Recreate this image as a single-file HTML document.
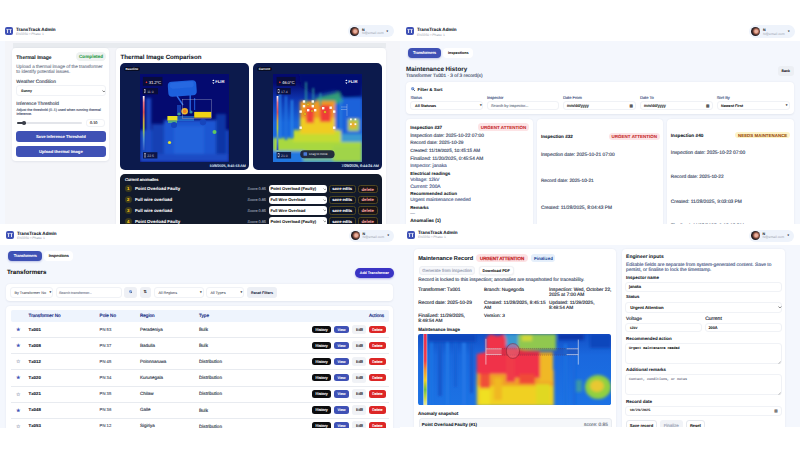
<!DOCTYPE html>
<html><head><meta charset="utf-8">
<style>
*{box-sizing:border-box;margin:0;padding:0}
html,body{width:800px;height:450px;overflow:hidden;background:#fff}
body{position:relative;font-family:"Liberation Sans",sans-serif;color:#111827;text-rendering:geometricPrecision}
.q{position:absolute;left:0;top:0;width:800px;height:450px}
.a{position:absolute}
.t{position:absolute;white-space:nowrap;line-height:1;-webkit-text-stroke:0.15px currentColor}
.b{font-weight:bold}
.t.b{-webkit-text-stroke:0.06px currentColor}
.card{position:absolute;background:#fff;border-radius:4px;box-shadow:0 0.5px 2px rgba(30,40,80,.08)}
.logo{position:absolute;width:8px;height:8px;border-radius:2px;background:#3f51b5;color:#fff;font-weight:bold;font-size:4.8px;line-height:9.6px;text-align:center;letter-spacing:-0.1px;-webkit-text-stroke:0.1px #fff}
.pill{position:absolute;border-radius:7px;background:#eef3fb}
.av{position:absolute;width:9px;height:9px;border-radius:50%;background:radial-gradient(circle at 58% 48%,#e8b0a0 0 18%,#c88068 30%,#6a4038 45%,#1e1a20 62%)}
.btn{position:absolute;border-radius:3px;background:#3f51b5;color:#fff;font-weight:bold;text-align:center;white-space:nowrap}
.inp{position:absolute;background:#fff;border:0.5px solid #f0f2f6;border-radius:3px}
.g{color:#9ba2b0;-webkit-text-stroke:0 !important}
.tag{height:4.6px;border-radius:2.3px;background:#070c22;color:#fff;font-size:3.1px;line-height:5.2px;text-align:center;font-weight:bold}
</style></head><body>
<!-- ============ TOP-LEFT ============ -->
<div class="q" style="clip-path:inset(0 400px 226px 0)">
<div class="a" style="left:0;top:41px;width:400px;height:183px;background:#f4f5f9"></div>
<div class="a" style="left:0;top:41px;width:5.2px;height:183px;background:#f5f8fe"></div>
<div class="a" style="left:13px;top:42.7px;width:372.5px;height:5.3px;background:#e8ebef"></div>
<svg class="a" style="left:5px;top:27px" width="8" height="8" viewBox="0 0 8 8"><rect width="8" height="8" rx="2" fill="#3f51b5"/><path d="M1.5,2.2 H3.7 V3.1 H3.05 V5.9 H2.2 V3.1 H1.5 Z M4.3,2.2 H6.5 V3.1 H5.85 V5.9 H5 V3.1 H4.3 Z" fill="#fff"/></svg>
<div class="t b" style="left:16px;top:28px;font-size:4.6px">TransTrack Admin</div>
<div class="t g" style="left:16px;top:33px;font-size:3.4px">EN3350 • Phase 1</div>
<div class="pill" style="left:348px;top:25px;width:46px;height:12px"></div>
<div class="av" style="left:350.4px;top:27px"></div>
<div class="t b" style="left:362px;top:29px;font-size:3.6px">N</div>
<div class="t g" style="left:362px;top:32px;font-size:3.45px">N@email.com</div>
<div class="t" style="left:386.5px;top:30px;font-size:3px">▾</div>

<!-- left card -->
<div class="card" style="left:12.3px;top:48px;width:96.9px;height:113px"></div>
<div class="t b" style="left:16.3px;top:56px;font-size:5px">Thermal Image</div>
<div class="a" style="left:76px;top:52.3px;width:30px;height:8.4px;border-radius:4.2px;background:#eef2f1"></div>
<div class="t b" style="left:79px;top:55px;font-size:4.65px;color:#2e9d4c">Completed</div>
<div class="t" style="left:16.3px;top:65px;font-size:4.6px;color:#7b8494">Upload a thermal image of the transformer</div>
<div class="t" style="left:16.3px;top:70px;font-size:4.6px;color:#7b8494">to identify potential issues.</div>
<div class="t" style="left:16.3px;top:81px;font-size:4.8px;color:#3f4a5c">Weather Condition</div>
<div class="inp" style="left:16px;top:84.8px;width:89.6px;height:11.5px"></div>
<div class="t b" style="left:21px;top:90px;font-size:3.6px;color:#222">Sunny</div>
<svg class="a" style="left:101.60px;top:89.55px" width="3.8" height="2.5"><path d="M0.5,0.5 L1.90,2.00 L3.30,0.5" stroke="#333" stroke-width="0.6" fill="none"/></svg>
<div class="t" style="left:16.3px;top:103px;font-size:4.8px;color:#3f4a5c">Inference Threshold</div>
<div class="t" style="left:16.4px;top:109px;font-size:3.55px;color:#56627a">Adjust the threshold (0–1) used when running thermal</div>
<div class="t" style="left:16.4px;top:113px;font-size:3.55px;color:#56627a">inference.</div>
<div class="a" style="left:17px;top:122.2px;width:65px;height:1.8px;border-radius:1px;background:#e3e5ea"></div>
<div class="a" style="left:17px;top:122.2px;width:7.5px;height:1.8px;border-radius:1px;background:#3b3f4a"></div>
<div class="a" style="left:22.3px;top:121.3px;width:3.6px;height:3.6px;border-radius:50%;background:#3b3f4a"></div>
<div class="inp" style="left:86.4px;top:118.7px;width:19.1px;height:8.6px"></div>
<div class="t" style="left:90px;top:122px;font-size:3.8px;color:#333">0.10</div>
<div class="btn" style="left:16px;top:131px;width:90px;height:11px"></div>
<div class="t b" style="left:35.9px;top:135px;font-size:4.1px;color:#fff">Save Inference Threshold</div>
<div class="btn" style="left:16px;top:145.6px;width:90px;height:11.3px"></div>
<div class="t b" style="left:39px;top:150px;font-size:4.2px;color:#fff">Upload thermal image</div>

<!-- right card -->
<div class="card" style="left:116px;top:48px;width:269.8px;height:180px"></div>
<div class="t b" style="left:120.6px;top:55px;font-size:6.15px">Thermal Image Comparison</div>
<div class="a" style="left:120px;top:63px;width:128.7px;height:107.4px;border-radius:5px;background:#0c1a4c"></div>
<div class="a" style="left:253.3px;top:63px;width:128.4px;height:107.4px;border-radius:5px;background:#0c1a4c"></div>
<div class="a tag" style="left:123.9px;top:66.6px;width:16px">Baseline</div>
<div class="a tag" style="left:257px;top:66.8px;width:14.7px">Current</div>
<div class="t" style="left:209.6px;top:165px;font-size:3.6px;color:#dfe4f3">10/8/2025, 8:41:13 AM</div>
<div class="t" style="left:341.6px;top:165px;font-size:3.7px;color:#dfe4f3">7/29/2025, 6:44:24 AM</div>

<!-- baseline thermal -->
<svg class="a" style="left:140px;top:74px" width="89" height="88" viewBox="0 0 89 88">
<defs>
<filter id="bl1" x="-20%" y="-20%" width="140%" height="140%"><feGaussianBlur stdDeviation="1.6"/></filter>
<filter id="bl2" x="-20%" y="-20%" width="140%" height="140%"><feGaussianBlur stdDeviation="0.7"/></filter>
<filter id="bl3" x="-20%" y="-20%" width="140%" height="140%"><feGaussianBlur stdDeviation="0.4"/></filter>
<linearGradient id="cb" x1="0" y1="0" x2="0" y2="1"><stop offset="0" stop-color="#fff"/><stop offset=".12" stop-color="#f07a8a"/><stop offset=".3" stop-color="#e05050"/><stop offset=".45" stop-color="#d8a040"/><stop offset=".6" stop-color="#b0c840"/><stop offset=".8" stop-color="#5090d0"/><stop offset="1" stop-color="#3050c0"/></linearGradient>
</defs>
<rect width="89" height="88" fill="#040a70"/>
<g filter="url(#bl1)">
<rect x="0" y="56" width="89" height="32" fill="#1648c0"/>
<rect x="24" y="46" width="52" height="42" fill="#1c56d2"/>
<rect x="34" y="52" width="30" height="30" fill="#2262da"/>
<rect x="6" y="24" width="5" height="64" fill="#1a4cc6"/>
<rect x="12" y="50" width="12" height="38" fill="#1240b4"/>
<rect x="76" y="40" width="10" height="48" fill="#0e34a6"/>
<rect x="0" y="80" width="89" height="8" fill="#1a4cc4"/>
</g>
<g filter="url(#bl2)">
<rect x="28" y="7" width="28.5" height="15" rx="4" fill="#1f60dc" transform="rotate(-4 42 14)"/>
<rect x="30" y="8" width="24" height="6" rx="3" fill="#2a6ee4" opacity=".6" transform="rotate(-4 42 14)"/>
<path d="M37,22 L43,31" stroke="#2a6ae6" stroke-width="1.4"/>
<rect x="49.5" y="21" width="1.4" height="16" fill="#2464e0"/>
<rect x="54" y="24" width="1.2" height="12" fill="#1c50cc"/>
<rect x="37" y="31" width="4" height="10" fill="#1a5ad8" opacity=".6"/>
<rect x="36" y="42" width="18" height="5" fill="#2a86e0" opacity=".6"/>
<rect x="27.4" y="42" width="10" height="4.6" fill="#e8e020"/>
<rect x="28" y="46.5" width="9" height="2.5" fill="#60c070" opacity=".8"/>
<circle cx="39" cy="40" r="1.6" fill="#50b890" opacity=".8"/>
<rect x="54.2" y="37.9" width="17" height="5.8" fill="#f0d418"/>
<circle cx="51" cy="38" r="1.6" fill="#40a8b0" opacity=".8"/>
<circle cx="44.7" cy="37.3" r="3.3" fill="#e8d030"/>
<circle cx="44.7" cy="37.3" r="2" fill="#f08020"/>
<circle cx="29.5" cy="68.5" r="1.6" fill="#e0e030"/>
<circle cx="74.5" cy="58" r="2" fill="#60c860"/>
<circle cx="34" cy="51" r="3" fill="#1444bc"/>
<circle cx="63" cy="48" r="3.2" fill="#1444bc"/>
</g>
<circle cx="44.7" cy="37.3" r="3.1" fill="none" stroke="#c83040" stroke-width=".45" stroke-dasharray=".6,.4"/>
<rect x="42.2" y="25.3" width="29.5" height="18.9" fill="none" stroke="#b8bcd0" stroke-width=".35"/>
<path d="M42.2,44.2 H71.7" stroke="#c04848" stroke-width=".35" stroke-dasharray=".6,.5"/>
<rect x="2.8" y="22" width="1.8" height="54" fill="url(#cb)"/>
<rect x="2.9" y="2.9" width="19.5" height="8.9" fill="#0a0d30" opacity=".85"/>
<rect x="2.8" y="14" width="15.2" height="6.25" fill="#0a0d30" opacity=".85"/>
<rect x="3" y="78.2" width="14.4" height="6.3" fill="#0a0d30" opacity=".85"/>
<path d="M5.5,8.2 l1,-1 l1,1 l-1,1 z" fill="#e33"/>
<text x="8.7" y="9.8" font-size="4.3" fill="#fff" font-family="Liberation Sans" textLength="12.4">31.2°C</text>
<rect x="4.3" y="15.5" width="1.4" height="3.4" fill="none" stroke="#ccd" stroke-width=".4"/>
<text x="7.2" y="18.7" font-size="3.4" fill="#ccd" font-family="Liberation Sans">11.0</text>
<rect x="4.4" y="79.7" width="1.4" height="3.4" fill="none" stroke="#ccd" stroke-width=".4"/>
<text x="7.3" y="82.9" font-size="3.4" fill="#ccd" font-family="Liberation Sans">22.5</text>
<path d="M73.4,5.6 l1.2,1.4 h-2.4 z M73.4,10 l1.2,-1.4 h-2.4 z" fill="#fff"/>
<text x="75.2" y="9.4" font-size="4.2" fill="#fff" font-weight="bold" font-family="Liberation Sans">FLIR</text>
</svg>

<!-- current thermal -->
<svg class="a" style="left:272.8px;top:74px" width="89.2" height="88" viewBox="0 0 89.2 88">
<defs>
<filter id="cl1" x="-20%" y="-20%" width="140%" height="140%"><feGaussianBlur stdDeviation="1.8"/></filter>
<filter id="cl2" x="-20%" y="-20%" width="140%" height="140%"><feGaussianBlur stdDeviation="0.8"/></filter>
<linearGradient id="cg" x1="0" y1="0" x2="0" y2="1"><stop offset="0" stop-color="#040a70"/><stop offset=".1" stop-color="#040a70"/><stop offset=".3" stop-color="#0f38b4"/><stop offset=".55" stop-color="#1a66dc"/><stop offset="1" stop-color="#1c6ee0"/></linearGradient>
</defs>
<rect width="89.2" height="88" fill="url(#cg)"/>
<g filter="url(#cl1)">
<path d="M26,0 H89 V22 L72,24 L62,16 L42,20 L28,12 Z" fill="#040a72"/>
<rect x="62" y="24" width="27" height="38" fill="#1a62da"/>
<path d="M42,24 L66,18 L70,28 L48,34 Z" fill="#38b070" opacity=".85"/>
<rect x="0" y="64" width="89" height="14" fill="#a8d840"/>
<rect x="62" y="60" width="27" height="8" fill="#3a9ad0"/>
<rect x="0" y="77" width="32" height="11" fill="#2078e0"/>
<rect x="30" y="78" width="30" height="10" fill="#70b8a0"/>
<rect x="60" y="72" width="29" height="16" fill="#a0d448"/>
<rect x="20" y="56" width="48" height="12" fill="#c4dc30"/>
<rect x="27" y="27" width="35" height="20" fill="#f09a20"/>
<rect x="27" y="44" width="35" height="16" fill="#f0cc20"/>
<rect x="33" y="33" width="8" height="16" fill="#f04038"/>
<rect x="47" y="31" width="11" height="17" fill="#f03a38"/>
<rect x="75" y="45" width="11" height="12" fill="#a8d040"/>
<circle cx="80" cy="51" r="3.2" fill="#f0a830"/>
</g>
<g filter="url(#cl2)">
<rect x="32.4" y="8" width="1.3" height="22" fill="#30b0a0"/>
<rect x="39.6" y="14" width="1.3" height="17" fill="#30a8a8"/>
<rect x="46.8" y="19" width="1.3" height="13" fill="#30a8a8"/>
<rect x="6" y="18" width="2" height="46" fill="#2a80e8"/>
<rect x="12" y="22" width="2" height="44" fill="#2070e0"/>
<rect x="18" y="26" width="2" height="38" fill="#2a84ea"/>
<rect x="67" y="26" width="1.6" height="30" fill="#2a80e0"/>
</g>
<g fill="#fffaf0">
<rect x="29.8" y="26.3" width="2.4" height="2.4"/><rect x="38.6" y="26.3" width="2.4" height="2.4"/>
<rect x="29.8" y="31" width="2.4" height="2.4"/><rect x="38.6" y="31" width="2.4" height="2.4"/>
<rect x="26.5" y="36.4" width="2.4" height="2.4"/><rect x="34" y="35" width="2.4" height="2.4"/><rect x="41" y="35" width="2.4" height="2.4"/>
<rect x="49" y="33" width="2.4" height="2.4"/><rect x="56.5" y="32.5" width="2.4" height="2.4"/><rect x="60" y="36.4" width="2.4" height="2.4"/>
<rect x="26.5" y="52.5" width="2.4" height="2.4"/><rect x="60" y="52.5" width="2.4" height="2.4"/>
<rect x="77" y="44.5" width="1.8" height="1.8"/><rect x="81.5" y="44.5" width="1.8" height="1.8"/>
<rect x="77" y="49.3" width="1.8" height="1.8"/><rect x="81.5" y="49.3" width="1.8" height="1.8"/>
</g>
<g fill="#f0c020" stroke="#7a5a10" stroke-width=".25">
<circle cx="35" cy="30.5" r="1.3"/><circle cx="32" cy="40" r="1.3"/><circle cx="52" cy="38" r="1.3"/><circle cx="39" cy="37" r="1.1"/>
</g>
<path d="M68,33 H74 M68,35.5 H74 M74,30 V42" stroke="#e0e4f0" stroke-width=".35" fill="none"/>
<rect x="3.6" y="22" width="1.8" height="54" fill="url(#cb)"/>
<rect x="3.6" y="2.9" width="19" height="8.9" fill="#0a0d30" opacity=".85"/>
<rect x="3.6" y="14" width="14.1" height="6.4" fill="#0a0d30" opacity=".85"/>
<rect x="3.6" y="78" width="14.5" height="6.5" fill="#0a0d30" opacity=".85"/>
<path d="M5.9,8.2 l1,-1 l1,1 l-1,1 z" fill="#e33"/>
<text x="9.1" y="9.8" font-size="4.3" fill="#fff" font-family="Liberation Sans" textLength="12.4">46.0°C</text>
<rect x="5" y="15.5" width="1.4" height="3.4" fill="none" stroke="#ccd" stroke-width=".4"/>
<text x="8" y="18.9" font-size="3.4" fill="#ccd" font-family="Liberation Sans">17.4</text>
<rect x="5" y="79.6" width="1.4" height="3.4" fill="none" stroke="#ccd" stroke-width=".4"/>
<text x="8" y="83" font-size="3.4" fill="#ccd" font-family="Liberation Sans">21.0</text>
<path d="M73.4,5.6 l1.2,1.4 h-2.4 z M73.4,10 l1.2,-1.4 h-2.4 z" fill="#fff"/>
<text x="75.2" y="9.4" font-size="4.2" fill="#fff" font-weight="bold" font-family="Liberation Sans">FLIR</text>
<rect x="27.2" y="76.3" width="34.4" height="7.9" rx="3.95" fill="#1c2236" opacity=".92"/>
<rect x="30.5" y="78.2" width="3.6" height="3.6" rx=".6" fill="#4a7ad8"/>
<text x="36" y="81.4" font-size="3.1" fill="#e8eaf0" font-family="Liberation Sans">Drag to move</text>
</svg>

<!-- anomalies panel -->
<div class="a" style="left:120px;top:173.9px;width:262.4px;height:60px;border-radius:5px;background:#121a2b"></div>
<div class="t" style="left:124.9px;top:178px;font-size:4.1px;color:#fff">Current anomalies</div>

<div class="a" style="left:124.6px;top:185.40px;width:7px;height:7px;border-radius:50%;background:#3d3b1c"></div>
<div class="t b" style="left:126.9px;top:187px;font-size:4.3px;color:#f8c81c">1</div>
<div class="t b" style="left:134.9px;top:187px;font-size:4.4px;color:#fff">Point Overload Faulty</div>
<div class="t" style="left:247.6px;top:188px;font-size:3.8px;color:#8b93a3">Score 0.85</div>
<div class="a" style="left:268.6px;top:184.60px;width:58.4px;height:8.3px;border-radius:3px;background:#fff"></div>
<div class="t b" style="left:270.4px;top:187px;font-size:4.18px;color:#111">Point Overload (Faulty)</div>
<svg class="a" style="left:322.5px;top:187.60px" width="3.8" height="2.5"><path d="M0.5,0.5 L1.9,1.9 L3.3,0.5" stroke="#555" stroke-width="0.6" fill="none"/></svg>
<div class="a" style="left:329.4px;top:184.60px;width:26.3px;height:8.3px;border-radius:2.5px;background:#0e1526;border:0.5px solid #4d4622"></div>
<div class="t b" style="left:332.3px;top:187px;font-size:4.1px;color:#fff">save edits</div>
<div class="a" style="left:357.6px;top:184.60px;width:20px;height:8.3px;border-radius:2.5px;background:#1a1416;border:0.5px solid #4d4622"></div>
<div class="t b" style="left:361.5px;top:188px;font-size:4.3px;color:#f4a0a0">delete</div>
<div class="a" style="left:124.6px;top:196.30px;width:7px;height:7px;border-radius:50%;background:#3d3b1c"></div>
<div class="t b" style="left:126.9px;top:198px;font-size:4.3px;color:#f8c81c">2</div>
<div class="t b" style="left:134.9px;top:198px;font-size:4.4px;color:#fff">Full wire overload</div>
<div class="t" style="left:247.6px;top:199px;font-size:3.8px;color:#8b93a3">Score 0.85</div>
<div class="a" style="left:268.6px;top:195.50px;width:58.4px;height:8.3px;border-radius:3px;background:#fff"></div>
<div class="t b" style="left:270.4px;top:198px;font-size:3.97px;color:#111">Full Wire Overload</div>
<svg class="a" style="left:322.5px;top:198.50px" width="3.8" height="2.5"><path d="M0.5,0.5 L1.9,1.9 L3.3,0.5" stroke="#555" stroke-width="0.6" fill="none"/></svg>
<div class="a" style="left:329.4px;top:195.50px;width:26.3px;height:8.3px;border-radius:2.5px;background:#0e1526;border:0.5px solid #4d4622"></div>
<div class="t b" style="left:332.3px;top:198px;font-size:4.1px;color:#fff">save edits</div>
<div class="a" style="left:357.6px;top:195.50px;width:20px;height:8.3px;border-radius:2.5px;background:#1a1416;border:0.5px solid #4d4622"></div>
<div class="t b" style="left:361.5px;top:198px;font-size:4.3px;color:#f4a0a0">delete</div>
<div class="a" style="left:124.6px;top:207.20px;width:7px;height:7px;border-radius:50%;background:#3d3b1c"></div>
<div class="t b" style="left:126.9px;top:209px;font-size:4.3px;color:#f8c81c">3</div>
<div class="t b" style="left:134.9px;top:209px;font-size:4.4px;color:#fff">Full wire overload</div>
<div class="t" style="left:247.6px;top:210px;font-size:3.8px;color:#8b93a3">Score 0.85</div>
<div class="a" style="left:268.6px;top:206.40px;width:58.4px;height:8.3px;border-radius:3px;background:#fff"></div>
<div class="t b" style="left:270.4px;top:209px;font-size:3.97px;color:#111">Full Wire Overload</div>
<svg class="a" style="left:322.5px;top:209.40px" width="3.8" height="2.5"><path d="M0.5,0.5 L1.9,1.9 L3.3,0.5" stroke="#555" stroke-width="0.6" fill="none"/></svg>
<div class="a" style="left:329.4px;top:206.40px;width:26.3px;height:8.3px;border-radius:2.5px;background:#0e1526;border:0.5px solid #4d4622"></div>
<div class="t b" style="left:332.3px;top:209px;font-size:4.1px;color:#fff">save edits</div>
<div class="a" style="left:357.6px;top:206.40px;width:20px;height:8.3px;border-radius:2.5px;background:#1a1416;border:0.5px solid #4d4622"></div>
<div class="t b" style="left:361.5px;top:209px;font-size:4.3px;color:#f4a0a0">delete</div>
<div class="a" style="left:124.6px;top:218.10px;width:7px;height:7px;border-radius:50%;background:#3d3b1c"></div>
<div class="t b" style="left:126.9px;top:220px;font-size:4.3px;color:#f8c81c">4</div>
<div class="t b" style="left:134.9px;top:220px;font-size:4.4px;color:#fff">Point Overload Faulty</div>
<div class="t" style="left:247.6px;top:221px;font-size:3.8px;color:#8b93a3">Score 0.85</div>
<div class="a" style="left:268.6px;top:217.30px;width:58.4px;height:8.3px;border-radius:3px;background:#fff"></div>
<div class="t b" style="left:270.4px;top:220px;font-size:4.18px;color:#111">Point Overload (Faulty)</div>
<svg class="a" style="left:322.5px;top:220.30px" width="3.8" height="2.5"><path d="M0.5,0.5 L1.9,1.9 L3.3,0.5" stroke="#555" stroke-width="0.6" fill="none"/></svg>
<div class="a" style="left:329.4px;top:217.30px;width:26.3px;height:8.3px;border-radius:2.5px;background:#0e1526;border:0.5px solid #4d4622"></div>
<div class="t b" style="left:332.3px;top:220px;font-size:4.1px;color:#fff">save edits</div>
<div class="a" style="left:357.6px;top:217.30px;width:20px;height:8.3px;border-radius:2.5px;background:#1a1416;border:0.5px solid #4d4622"></div>
<div class="t b" style="left:361.5px;top:220px;font-size:4.3px;color:#f4a0a0">delete</div>
</div>
<!-- ============ TOP-RIGHT ============ -->
<div class="q" style="clip-path:inset(0 0 226px 400px)">
<div class="a" style="left:400px;top:40.6px;width:400px;height:184px;background:#f4f7fd"></div>
<svg class="a" style="left:405.8px;top:27.4px" width="8" height="8" viewBox="0 0 8 8"><rect width="8" height="8" rx="2" fill="#3f51b5"/><path d="M1.5,2.2 H3.7 V3.1 H3.05 V5.9 H2.2 V3.1 H1.5 Z M4.3,2.2 H6.5 V3.1 H5.85 V5.9 H5 V3.1 H4.3 Z" fill="#fff"/></svg>
<div class="t b" style="left:417px;top:28px;font-size:4.6px">TransTrack Admin</div>
<div class="t g" style="left:417px;top:34px;font-size:3.4px">EN3350 • Phase 1</div>
<div class="pill" style="left:748.75px;top:25px;width:45.75px;height:13px"></div>
<div class="av" style="left:751.2px;top:27px"></div>
<div class="t b" style="left:763px;top:29px;font-size:3.6px">N</div>
<div class="t g" style="left:763px;top:33px;font-size:3.45px">N@email.com</div>
<div class="t" style="left:788px;top:30px;font-size:3px">▾</div>

<div class="a" style="left:407.8px;top:48px;width:33.2px;height:10px;border-radius:4px;background:#3f51b5;box-shadow:0 1px 2px rgba(63,81,181,.3)"></div>
<div class="t" style="left:413px;top:51px;font-size:3.9px;color:#fff">Transformers</div>
<div class="a" style="left:443px;top:48px;width:30px;height:10px;border-radius:4px;background:#fff"></div>
<div class="t b" style="left:448px;top:52px;font-size:3.7px;color:#111">Inspections</div>
<div class="t b" style="left:406px;top:67px;font-size:6.25px;color:#1a1f2e">Maintenance History</div>
<div class="t" style="left:406px;top:75px;font-size:4.75px;color:#4a5570">Transformer Tx001 · 3 of 3 record(s)</div>
<div class="a" style="left:778px;top:66.4px;width:16px;height:9.6px;border-radius:3px;background:#eceff4"></div>
<div class="t b" style="left:781.6px;top:70px;font-size:3.5px;color:#111">Back</div>

<div class="card" style="left:406.2px;top:82.2px;width:388px;height:32.3px"></div>
<svg class="a" style="left:411.2px;top:87.3px" width="4.2" height="4.2" viewBox="0 0 10 10"><circle cx="4" cy="4" r="3" fill="#8fb4e8" stroke="#3a62b8" stroke-width="1.3"/><path d="M6.2,6.2 L9,9" stroke="#2a3550" stroke-width="1.8" stroke-linecap="round"/></svg>
<div class="t b" style="left:417.5px;top:88px;font-size:4.37px">Filter &amp; Sort</div>
<div class="t" style="left:410.6px;top:96px;font-size:4px;color:#4b5a88">Status</div>
<div class="t" style="left:487px;top:96px;font-size:4px;color:#4b5a88">Inspector</div>
<div class="t" style="left:563px;top:96px;font-size:4px;color:#4b5a88">Date From</div>
<div class="t" style="left:640px;top:96px;font-size:4px;color:#4b5a88">Date To</div>
<div class="t" style="left:716.7px;top:96px;font-size:4px;color:#4b5a88">Sort By</div>
<div class="inp" style="left:410px;top:100.9px;width:73.4px;height:9.6px"></div>
<div class="t b" style="left:415px;top:105px;font-size:3.7px;color:#111">All Statuses</div>
<div class="t" style="left:480px;top:104px;font-size:3.4px;color:#333">▾</div>
<div class="inp" style="left:486.6px;top:100.9px;width:72.8px;height:9.6px"></div>
<div class="t" style="left:491px;top:104px;font-size:3.88px;color:#7b8494">Search by inspector...</div>
<div class="inp" style="left:563px;top:100.9px;width:73.4px;height:9.6px"></div>
<div class="t" style="left:567px;top:104px;font-size:4.1px;color:#222">mm/dd/yyyy</div>
<div class="t" style="left:629.4px;top:105px;font-size:3.6px;color:#555">▦</div>
<div class="inp" style="left:640px;top:100.9px;width:73px;height:9.6px"></div>
<div class="t" style="left:644px;top:104px;font-size:4.1px;color:#222">mm/dd/yyyy</div>
<div class="t" style="left:706px;top:105px;font-size:3.6px;color:#555">▦</div>
<div class="inp" style="left:716.7px;top:100.9px;width:72.9px;height:9.6px"></div>
<div class="t b" style="left:721px;top:105px;font-size:3.7px;color:#111">Newest First</div>
<div class="t" style="left:785.8px;top:104px;font-size:3.4px;color:#333">▾</div>

<!-- card 1 -->
<div class="card" style="left:406px;top:119px;width:126.5px;height:110px"></div>
<div class="t b" style="left:410.2px;top:126px;font-size:4.6px">Inspection #37</div>
<div class="a" style="left:478px;top:123.3px;width:51px;height:7.3px;border-radius:3.6px;background:#fde4e6"></div>
<div class="t b" style="left:480.7px;top:126px;font-size:4.5px;color:#c62828">URGENT ATTENTION</div>
<div class="t" style="left:410.2px;top:135px;font-size:4.85px;color:#3d4a66">Inspection date: 2025-10-22 07:00</div>
<div class="t" style="left:410.2px;top:142px;font-size:4.8px;color:#3d4a66">Record date: 2025-10-29</div>
<div class="t" style="left:410.2px;top:149px;font-size:4.6px;color:#3d4a66">Created: 11/19/2025, 10:45:15 AM</div>
<div class="t" style="left:410.2px;top:158px;font-size:4.85px;color:#3d4a66">Finalized: 11/20/2025, 0:45:54 AM</div>
<div class="t" style="left:410.2px;top:165px;font-size:4.8px;color:#4b5a88">Inspector: janaka</div>
<div class="t b" style="left:410.2px;top:172px;font-size:4.5px">Electrical readings</div>
<div class="t" style="left:410.2px;top:179px;font-size:4.75px;color:#4b5a88">Voltage: 12kV</div>
<div class="t" style="left:410.2px;top:186px;font-size:4.9px;color:#4b5a88">Current: 200A</div>
<div class="t b" style="left:410.2px;top:192px;font-size:4.5px">Recommended action</div>
<div class="t" style="left:410.2px;top:199px;font-size:4.8px;color:#4b5a88">Urgent maintenance needed</div>
<div class="t b" style="left:410.2px;top:206px;font-size:4.4px">Remarks</div>
<div class="t" style="left:410.2px;top:212px;font-size:4.6px;color:#8a93a8">—</div>
<div class="t b" style="left:410.2px;top:219px;font-size:4.7px">Anomalies (1)</div>

<!-- card 2 -->
<div class="card" style="left:536.7px;top:119px;width:126.1px;height:110px"></div>
<div class="t b" style="left:540.9px;top:135px;font-size:4.6px">Inspection #32</div>
<div class="a" style="left:608.8px;top:132.8px;width:50.8px;height:7.2px;border-radius:3.6px;background:#fde4e6"></div>
<div class="t b" style="left:611.6px;top:135px;font-size:4.5px;color:#c62828">URGENT ATTENTION</div>
<div class="t" style="left:540.9px;top:154px;font-size:4.85px;color:#3d4a66">Inspection date: 2025-10-21 07:00</div>
<div class="t" style="left:540.9px;top:180px;font-size:4.75px;color:#3d4a66">Record date: 2025-10-21</div>
<div class="t" style="left:540.9px;top:207px;font-size:4.84px;color:#3d4a66">Created: 11/28/2025, 8:04:43 PM</div>

<!-- card 3 -->
<div class="card" style="left:667px;top:119px;width:127px;height:110px"></div>
<div class="t b" style="left:670.8px;top:134px;font-size:4.7px">Inspection #40</div>
<div class="a" style="left:735.1px;top:131.6px;width:54.8px;height:6.9px;border-radius:3.4px;background:#fdf3c7"></div>
<div class="t b" style="left:738px;top:134px;font-size:4.44px;color:#9a4a0c">NEEDS MAINTENANCE</div>
<div class="t" style="left:670.8px;top:152px;font-size:4.9px;color:#3d4a66">Inspection date: 2025-10-22 07:00</div>
<div class="t" style="left:670.8px;top:176px;font-size:4.75px;color:#3d4a66">Record date: 2025-10-22</div>
<div class="t" style="left:670.8px;top:201px;font-size:4.84px;color:#3d4a66">Created: 11/28/2025, 9:03:03 PM</div>
<div class="t" style="left:670.8px;top:225px;font-size:4.84px;color:#3d4a66">Finalized: 11/28/2025, 9:03:03 PM</div>
</div>

<!-- ============ BOTTOM-LEFT ============ -->
<div class="q" style="clip-path:inset(224px 400px 22px 0)">
<div class="a" style="left:0;top:224px;width:400px;height:21px;background:#fff"></div>
<div class="a" style="left:0;top:245px;width:400px;height:183px;background:#f4f7fd"></div>
<svg class="a" style="left:6.2px;top:230.8px" width="8" height="8" viewBox="0 0 8 8"><rect width="8" height="8" rx="2" fill="#3f51b5"/><path d="M1.5,2.2 H3.7 V3.1 H3.05 V5.9 H2.2 V3.1 H1.5 Z M4.3,2.2 H6.5 V3.1 H5.85 V5.9 H5 V3.1 H4.3 Z" fill="#fff"/></svg>
<div class="t b" style="left:17px;top:232px;font-size:4.6px">TransTrack Admin</div>
<div class="t g" style="left:17px;top:237px;font-size:3.4px">EN3350 • Phase 1</div>
<div class="pill" style="left:348.75px;top:229.5px;width:45px;height:12px"></div>
<div class="av" style="left:351px;top:231px"></div>
<div class="t b" style="left:362.5px;top:233px;font-size:3.6px">N</div>
<div class="t g" style="left:362.5px;top:236px;font-size:3.45px">N@email.com</div>
<div class="t" style="left:387.5px;top:234px;font-size:3px">▾</div>
<div class="a" style="left:8.1px;top:250.9px;width:33.5px;height:10px;border-radius:4px;background:#3f51b5;box-shadow:0 1px 2px rgba(63,81,181,.3)"></div>
<div class="t" style="left:13.75px;top:254px;font-size:3.9px;color:#fff">Transformers</div>
<div class="a" style="left:44px;top:250.9px;width:29.1px;height:10px;border-radius:4px;background:#fff"></div>
<div class="t" style="left:48.75px;top:254px;font-size:3.95px;color:#111">Inspections</div>
<div class="t b" style="left:6.9px;top:270px;font-size:6.2px;color:#111">Transformers</div>
<div class="a" style="left:355px;top:268px;width:38.5px;height:9.8px;border-radius:4.9px;background:#3a34c4;box-shadow:0 1px 2px rgba(58,52,196,.35)"></div>
<div class="t b" style="left:359.8px;top:272px;font-size:3.62px;color:#fff">Add Transformer</div>

<div class="card" style="left:6.4px;top:283.8px;width:386.8px;height:17px"></div>
<div class="inp" style="left:10.4px;top:287px;width:42.6px;height:10.6px"></div>
<div class="t" style="left:14.4px;top:292px;font-size:3.77px;color:#454b58;-webkit-text-stroke:0.05px #454b58">By Transformer No</div>
<div class="t" style="left:49.5px;top:291px;font-size:3.4px;color:#333">▾</div>
<div class="inp" style="left:55.6px;top:287px;width:66px;height:10.6px"></div>
<div class="t" style="left:59px;top:292px;font-size:3.53px;color:#8a90a0;">Search transformer...</div>
<div class="a" style="left:124px;top:287px;width:13px;height:10.6px;border-radius:3px;background:#eef0f5"></div>
<svg class="a" style="left:128.6px;top:290.3px" width="3.8" height="3.8" viewBox="0 0 10 10"><circle cx="4" cy="4" r="3" fill="#8fb4e8" stroke="#3a62b8" stroke-width="1.3"/><path d="M6.2,6.2 L9,9" stroke="#2a3550" stroke-width="1.8" stroke-linecap="round"/></svg>
<div class="a" style="left:140px;top:287px;width:11px;height:10.6px;border-radius:3px;background:#eef0f5"></div>
<div class="t" style="left:143.6px;top:290px;font-size:4px;color:#333">⇅</div>
<div class="inp" style="left:154.4px;top:287px;width:49.2px;height:10.6px"></div>
<div class="t" style="left:158.4px;top:292px;font-size:3.68px;color:#454b58;-webkit-text-stroke:0.05px #454b58">All Regions</div>
<div class="t" style="left:200px;top:291px;font-size:3.4px;color:#333">▾</div>
<div class="inp" style="left:206.4px;top:287px;width:37.6px;height:10.6px"></div>
<div class="t" style="left:210.4px;top:292px;font-size:3.76px;color:#454b58;-webkit-text-stroke:0.05px #454b58">All Types</div>
<div class="t" style="left:240.5px;top:291px;font-size:3.4px;color:#333">▾</div>
<div class="a" style="left:247.4px;top:287px;width:29.6px;height:10.6px;border-radius:3px;background:#eceff5"></div>
<div class="t b" style="left:251px;top:292px;font-size:3.67px;color:#1f2a44">Reset Filters</div>

<div class="card" style="left:6.4px;top:305.8px;width:386.8px;height:130px"></div>
<div class="a" style="left:11px;top:310.4px;width:377.7px;height:11.2px;border-radius:2px;background:#eef4fd"></div>
<div class="t" style="left:28.6px;top:314px;font-size:4.6px;color:#26358a;-webkit-text-stroke:0.22px #26358a">Transformer No</div>
<div class="t" style="left:99.6px;top:314px;font-size:4.6px;color:#26358a;-webkit-text-stroke:0.22px #26358a">Pole No</div>
<div class="t" style="left:140px;top:314px;font-size:4.6px;color:#26358a;-webkit-text-stroke:0.22px #26358a">Region</div>
<div class="t" style="left:199px;top:314px;font-size:4.6px;color:#26358a;-webkit-text-stroke:0.22px #26358a">Type</div>
<div class="t" style="left:369px;top:314px;font-size:4.6px;color:#26358a;-webkit-text-stroke:0.22px #26358a">Actions</div>
<div class="t" style="left:15.9px;top:328px;font-size:5px;color:#3f51b5">★</div>
<div class="t" style="left:28.6px;top:328px;font-size:4.3px;color:#1f2937;font-weight:bold">Tx001</div>
<div class="t" style="left:99.6px;top:328px;font-size:4.2px;color:#5b6475">PN 53</div>
<div class="t" style="left:140px;top:328px;font-size:4.5px;color:#374151">Peradeniya</div>
<div class="t" style="left:199px;top:328px;font-size:4.6px;color:#374151">Bulk</div>
<div class="a" style="left:312.1px;top:325.80px;width:18.9px;height:7.4px;border-radius:2.5px;background:#0d0d0f"></div>
<div class="t" style="left:315.6px;top:329px;font-size:3.86px;color:#fff">History</div>
<div class="a" style="left:333.5px;top:325.80px;width:15.6px;height:7.4px;border-radius:2.5px;background:#3f51b5"></div>
<div class="t b" style="left:337.5px;top:329px;font-size:3.54px;color:#fff">View</div>
<div class="a" style="left:351.9px;top:324.70px;width:14.4px;height:9.6px;border-radius:2.5px;background:#f0f2f6"></div>
<div class="t" style="left:356px;top:328px;font-size:4.06px;color:#222">Edit</div>
<div class="a" style="left:369px;top:325.80px;width:16.6px;height:7.4px;border-radius:2.5px;background:#dc2626"></div>
<div class="t" style="left:372.25px;top:329px;font-size:3.55px;color:#fff">Delete</div>
<div class="a" style="left:11px;top:337.30px;width:378px;height:0.5px;background:#e8ebf0"></div>
<div class="t" style="left:15.9px;top:344px;font-size:5px;color:#3f51b5">★</div>
<div class="t" style="left:28.6px;top:344px;font-size:4.3px;color:#1f2937;font-weight:bold">Tx008</div>
<div class="t" style="left:99.6px;top:344px;font-size:4.2px;color:#5b6475">PN 37</div>
<div class="t" style="left:140px;top:344px;font-size:4.5px;color:#374151">Badulla</div>
<div class="t" style="left:199px;top:344px;font-size:4.6px;color:#374151">Bulk</div>
<div class="a" style="left:312.1px;top:341.88px;width:18.9px;height:7.4px;border-radius:2.5px;background:#0d0d0f"></div>
<div class="t" style="left:315.6px;top:345px;font-size:3.86px;color:#fff">History</div>
<div class="a" style="left:333.5px;top:341.88px;width:15.6px;height:7.4px;border-radius:2.5px;background:#3f51b5"></div>
<div class="t b" style="left:337.5px;top:345px;font-size:3.54px;color:#fff">View</div>
<div class="a" style="left:351.9px;top:340.78px;width:14.4px;height:9.6px;border-radius:2.5px;background:#f0f2f6"></div>
<div class="t" style="left:356px;top:344px;font-size:4.06px;color:#222">Edit</div>
<div class="a" style="left:369px;top:341.88px;width:16.6px;height:7.4px;border-radius:2.5px;background:#dc2626"></div>
<div class="t" style="left:372.25px;top:345px;font-size:3.55px;color:#fff">Delete</div>
<div class="a" style="left:11px;top:353.38px;width:378px;height:0.5px;background:#e8ebf0"></div>
<div class="t" style="left:15.9px;top:360px;font-size:5px;color:#a9b1c2">☆</div>
<div class="t" style="left:28.6px;top:360px;font-size:4.3px;color:#1f2937;font-weight:bold">Tx012</div>
<div class="t" style="left:99.6px;top:360px;font-size:4.2px;color:#5b6475">PN 45</div>
<div class="t" style="left:140px;top:360px;font-size:4.5px;color:#374151">Polonnaruwa</div>
<div class="t" style="left:199px;top:360px;font-size:4.6px;color:#374151">Distribution</div>
<div class="a" style="left:312.1px;top:357.96px;width:18.9px;height:7.4px;border-radius:2.5px;background:#0d0d0f"></div>
<div class="t" style="left:315.6px;top:361px;font-size:3.86px;color:#fff">History</div>
<div class="a" style="left:333.5px;top:357.96px;width:15.6px;height:7.4px;border-radius:2.5px;background:#3f51b5"></div>
<div class="t b" style="left:337.5px;top:361px;font-size:3.54px;color:#fff">View</div>
<div class="a" style="left:351.9px;top:356.86px;width:14.4px;height:9.6px;border-radius:2.5px;background:#f0f2f6"></div>
<div class="t" style="left:356px;top:360px;font-size:4.06px;color:#222">Edit</div>
<div class="a" style="left:369px;top:357.96px;width:16.6px;height:7.4px;border-radius:2.5px;background:#dc2626"></div>
<div class="t" style="left:372.25px;top:361px;font-size:3.55px;color:#fff">Delete</div>
<div class="a" style="left:11px;top:369.46px;width:378px;height:0.5px;background:#e8ebf0"></div>
<div class="t" style="left:15.9px;top:376px;font-size:5px;color:#3f51b5">★</div>
<div class="t" style="left:28.6px;top:376px;font-size:4.3px;color:#1f2937;font-weight:bold">Tx020</div>
<div class="t" style="left:99.6px;top:376px;font-size:4.2px;color:#5b6475">PN 34</div>
<div class="t" style="left:140px;top:376px;font-size:4.5px;color:#374151">Kurunegala</div>
<div class="t" style="left:199px;top:376px;font-size:4.6px;color:#374151">Distribution</div>
<div class="a" style="left:312.1px;top:374.04px;width:18.9px;height:7.4px;border-radius:2.5px;background:#0d0d0f"></div>
<div class="t" style="left:315.6px;top:377px;font-size:3.86px;color:#fff">History</div>
<div class="a" style="left:333.5px;top:374.04px;width:15.6px;height:7.4px;border-radius:2.5px;background:#3f51b5"></div>
<div class="t b" style="left:337.5px;top:377px;font-size:3.54px;color:#fff">View</div>
<div class="a" style="left:351.9px;top:372.94px;width:14.4px;height:9.6px;border-radius:2.5px;background:#f0f2f6"></div>
<div class="t" style="left:356px;top:376px;font-size:4.06px;color:#222">Edit</div>
<div class="a" style="left:369px;top:374.04px;width:16.6px;height:7.4px;border-radius:2.5px;background:#dc2626"></div>
<div class="t" style="left:372.25px;top:377px;font-size:3.55px;color:#fff">Delete</div>
<div class="a" style="left:11px;top:385.54px;width:378px;height:0.5px;background:#e8ebf0"></div>
<div class="t" style="left:15.9px;top:393px;font-size:5px;color:#a9b1c2">☆</div>
<div class="t" style="left:28.6px;top:392px;font-size:4.3px;color:#1f2937;font-weight:bold">Tx021</div>
<div class="t" style="left:99.6px;top:392px;font-size:4.2px;color:#5b6475">PN 35</div>
<div class="t" style="left:140px;top:392px;font-size:4.5px;color:#374151">Chilaw</div>
<div class="t" style="left:199px;top:392px;font-size:4.6px;color:#374151">Distribution</div>
<div class="a" style="left:312.1px;top:390.12px;width:18.9px;height:7.4px;border-radius:2.5px;background:#0d0d0f"></div>
<div class="t" style="left:315.6px;top:393px;font-size:3.86px;color:#fff">History</div>
<div class="a" style="left:333.5px;top:390.12px;width:15.6px;height:7.4px;border-radius:2.5px;background:#3f51b5"></div>
<div class="t b" style="left:337.5px;top:393px;font-size:3.54px;color:#fff">View</div>
<div class="a" style="left:351.9px;top:389.02px;width:14.4px;height:9.6px;border-radius:2.5px;background:#f0f2f6"></div>
<div class="t" style="left:356px;top:392px;font-size:4.06px;color:#222">Edit</div>
<div class="a" style="left:369px;top:390.12px;width:16.6px;height:7.4px;border-radius:2.5px;background:#dc2626"></div>
<div class="t" style="left:372.25px;top:393px;font-size:3.55px;color:#fff">Delete</div>
<div class="a" style="left:11px;top:401.62px;width:378px;height:0.5px;background:#e8ebf0"></div>
<div class="t" style="left:15.9px;top:409px;font-size:5px;color:#3f51b5">★</div>
<div class="t" style="left:28.6px;top:408px;font-size:4.3px;color:#1f2937;font-weight:bold">Tx048</div>
<div class="t" style="left:99.6px;top:408px;font-size:4.2px;color:#5b6475">PN 36</div>
<div class="t" style="left:140px;top:408px;font-size:4.5px;color:#374151">Galle</div>
<div class="t" style="left:199px;top:409px;font-size:4.6px;color:#374151">Bulk</div>
<div class="a" style="left:312.1px;top:406.20px;width:18.9px;height:7.4px;border-radius:2.5px;background:#0d0d0f"></div>
<div class="t" style="left:315.6px;top:409px;font-size:3.86px;color:#fff">History</div>
<div class="a" style="left:333.5px;top:406.20px;width:15.6px;height:7.4px;border-radius:2.5px;background:#3f51b5"></div>
<div class="t b" style="left:337.5px;top:409px;font-size:3.54px;color:#fff">View</div>
<div class="a" style="left:351.9px;top:405.10px;width:14.4px;height:9.6px;border-radius:2.5px;background:#f0f2f6"></div>
<div class="t" style="left:356px;top:408px;font-size:4.06px;color:#222">Edit</div>
<div class="a" style="left:369px;top:406.20px;width:16.6px;height:7.4px;border-radius:2.5px;background:#dc2626"></div>
<div class="t" style="left:372.25px;top:409px;font-size:3.55px;color:#fff">Delete</div>
<div class="a" style="left:11px;top:417.70px;width:378px;height:0.5px;background:#e8ebf0"></div>
<div class="t" style="left:15.9px;top:425px;font-size:5px;color:#a9b1c2">☆</div>
<div class="t" style="left:28.6px;top:424px;font-size:4.3px;color:#1f2937;font-weight:bold">Tx053</div>
<div class="t" style="left:99.6px;top:424px;font-size:4.2px;color:#5b6475">PN 12</div>
<div class="t" style="left:140px;top:424px;font-size:4.5px;color:#374151">Sigiriya</div>
<div class="t" style="left:199px;top:425px;font-size:4.6px;color:#374151">Distribution</div>
<div class="a" style="left:312.1px;top:422.28px;width:18.9px;height:7.4px;border-radius:2.5px;background:#0d0d0f"></div>
<div class="t" style="left:315.6px;top:425px;font-size:3.86px;color:#fff">History</div>
<div class="a" style="left:333.5px;top:422.28px;width:15.6px;height:7.4px;border-radius:2.5px;background:#3f51b5"></div>
<div class="t b" style="left:337.5px;top:425px;font-size:3.54px;color:#fff">View</div>
<div class="a" style="left:351.9px;top:421.18px;width:14.4px;height:9.6px;border-radius:2.5px;background:#f0f2f6"></div>
<div class="t" style="left:356px;top:424px;font-size:4.06px;color:#222">Edit</div>
<div class="a" style="left:369px;top:422.28px;width:16.6px;height:7.4px;border-radius:2.5px;background:#dc2626"></div>
<div class="t" style="left:372.25px;top:425px;font-size:3.55px;color:#fff">Delete</div>
</div>
<!-- ============ BOTTOM-RIGHT ============ -->
<div class="q" style="clip-path:inset(224px 0 23px 400px)">
<div class="a" style="left:400px;top:224px;width:400px;height:20.5px;background:#fff"></div>
<div class="a" style="left:400px;top:244.5px;width:400px;height:183px;background:#f4f7fd"></div>
<svg class="a" style="left:407px;top:231px" width="8" height="8" viewBox="0 0 8 8"><rect width="8" height="8" rx="2" fill="#3f51b5"/><path d="M1.5,2.2 H3.7 V3.1 H3.05 V5.9 H2.2 V3.1 H1.5 Z M4.3,2.2 H6.5 V3.1 H5.85 V5.9 H5 V3.1 H4.3 Z" fill="#fff"/></svg>
<div class="t b" style="left:418px;top:231px;font-size:4.6px">TransTrack Admin</div>
<div class="t g" style="left:418px;top:236px;font-size:3.4px">EN3350 • Phase 1</div>
<div class="pill" style="left:748.75px;top:229.5px;width:45px;height:12px"></div>
<div class="av" style="left:751px;top:231px"></div>
<div class="t b" style="left:762.5px;top:233px;font-size:3.6px">N</div>
<div class="t g" style="left:762.5px;top:236px;font-size:3.45px">N@email.com</div>
<div class="t" style="left:787.5px;top:234px;font-size:3px">▾</div>

<!-- left card -->
<div class="card" style="left:413.9px;top:248.8px;width:202.4px;height:190px"></div>
<div class="t b" style="left:418.2px;top:257px;font-size:5.63px">Maintenance Record</div>
<div class="a" style="left:476.4px;top:253.9px;width:51.6px;height:8.1px;border-radius:4px;background:#fde2e4"></div>
<div class="t" style="left:480px;top:257px;font-size:4.41px;color:#c62828;-webkit-text-stroke:0.3px #c62828">URGENT ATTENTION</div>
<div class="a" style="left:531.1px;top:253.9px;width:24.4px;height:8.1px;border-radius:3px;background:#e5effb"></div>
<div class="t b" style="left:534px;top:257px;font-size:4.44px;color:#1f4e9c">Finalized</div>
<div class="a" style="left:418.6px;top:265.7px;width:56.8px;height:9.8px;border-radius:3px;background:#f7f8fb;border:0.5px solid #eef0f4"></div>
<div class="t" style="left:422.3px;top:269px;font-size:4.43px;color:#9aa3b5">Generate from inspection</div>
<div class="a" style="left:478.6px;top:265.7px;width:35.6px;height:9.8px;border-radius:3px;background:#fff;border:0.5px solid #f0f2f5;box-shadow:0 .5px 1.5px rgba(0,0,0,.08)"></div>
<div class="t b" style="left:482.4px;top:269px;font-size:3.91px;color:#111">Download PDF</div>
<div class="t" style="left:418.25px;top:279px;font-size:4.83px;color:#3d4a66">Record is locked to this inspection; anomalies are snapshotted for traceability.</div>
<div class="t" style="left:418.25px;top:289px;font-size:4.85px;color:#1f2937">Transformer: Tx001</div>
<div class="t" style="left:484px;top:289px;font-size:4.8px;color:#1f2937">Branch: Nugegoda</div>
<div class="t" style="left:549px;top:289px;font-size:4.83px;color:#1f2937">Inspection: Wed, October 22,</div>
<div class="t" style="left:549px;top:294px;font-size:4.83px;color:#1f2937">2025 at 7:00 AM</div>
<div class="t" style="left:418.25px;top:302px;font-size:4.83px;color:#1f2937">Record date: 2025-10-29</div>
<div class="t" style="left:484px;top:302px;font-size:4.77px;color:#1f2937">Created: 11/28/2025, 8:45:15</div>
<div class="t" style="left:484px;top:307px;font-size:4.77px;color:#1f2937">AM</div>
<div class="t" style="left:549px;top:302px;font-size:4.77px;color:#1f2937">Updated: 11/29/2025,</div>
<div class="t" style="left:549px;top:307px;font-size:4.77px;color:#1f2937">8:49:54 AM</div>
<div class="t" style="left:418.25px;top:315px;font-size:4.79px;color:#1f2937">Finalized: 11/29/2025,</div>
<div class="t" style="left:418.25px;top:320px;font-size:4.79px;color:#1f2937">8:49:54 AM</div>
<div class="t" style="left:484px;top:314px;font-size:4.72px;color:#1f2937">Version: 3</div>
<div class="t b" style="left:418.25px;top:328px;font-size:4.53px">Maintenance image</div>

<!-- maintenance thermal -->
<svg class="a" style="left:418.4px;top:333.9px" width="193.1" height="71.2" viewBox="0 0 193.1 71.2">
<defs>
<clipPath id="mc"><rect width="193.1" height="71.2" rx="2.5"/></clipPath>
<filter id="ml1" x="-20%" y="-20%" width="140%" height="140%"><feGaussianBlur stdDeviation="1.8"/></filter>
<filter id="ml2" x="-20%" y="-20%" width="140%" height="140%"><feGaussianBlur stdDeviation="0.9"/></filter>
<linearGradient id="mg" x1="0" y1="0" x2="0" y2="1"><stop offset="0" stop-color="#1250c6"/><stop offset=".3" stop-color="#1a68de"/><stop offset="1" stop-color="#1c72e4"/></linearGradient>
<linearGradient id="mcb" x1="0" y1="0" x2="0" y2="1"><stop offset="0" stop-color="#e82c50"/><stop offset=".38" stop-color="#f03c48"/><stop offset=".5" stop-color="#f09030"/><stop offset=".65" stop-color="#f0d020"/><stop offset=".78" stop-color="#70c040"/><stop offset=".9" stop-color="#c8d840"/><stop offset="1" stop-color="#e8e8a0"/></linearGradient>
</defs>
<g clip-path="url(#mc)">
<rect width="193.1" height="71.2" fill="url(#mg)"/>
<g filter="url(#ml2)">
<rect x="12" y="4" width="3" height="67" fill="#1f74e4"/>
<rect x="20" y="2" width="4" height="60" fill="#1558cc"/>
<rect x="28" y="6" width="3" height="65" fill="#2078e6"/>
<rect x="36" y="3" width="3" height="50" fill="#1860d6"/>
<rect x="44" y="8" width="4" height="63" fill="#2076e6"/>
<rect x="52" y="4" width="3" height="55" fill="#1658cc"/>
<rect x="146" y="10" width="3" height="61" fill="#1f70e0"/>
<rect x="155" y="20" width="2.5" height="51" fill="#1c68dc"/>
</g>
<g filter="url(#ml1)">
<rect x="10" y="0" width="48" height="8" fill="#0f46bc"/>
<rect x="140" y="0" width="26" height="6" fill="#0a34a8"/>
<rect x="172" y="0" width="21" height="14" fill="#0f46bc"/>
<rect x="100" y="0" width="38" height="16" fill="#90c850"/>
<rect x="104" y="1" width="10" height="6" fill="#d0d838"/>
<rect x="86" y="0" width="14" height="12" fill="#3a9ad0"/>
<rect x="58.8" y="46" width="77" height="26" fill="#f0d020"/>
<rect x="58.8" y="36" width="77" height="16" fill="#f0a028"/>
<rect x="121" y="18" width="14" height="30" fill="#f0b828"/>
<path d="M68,4 L72,0 L80,2 L86,0 L88,6 L88,40 L58.8,40 L58.8,20 L68,18 Z" fill="#f03048"/>
<rect x="88" y="14" width="9" height="34" fill="#f03a48"/>
<path d="M97,14 L106,16 L122,17 L122,44 L97,44 Z" fill="#f03048"/>
<rect x="62" y="40" width="10" height="14" fill="#f05038"/>
<rect x="101" y="40" width="16" height="10" fill="#f04838"/>
<rect x="76" y="44" width="8" height="22" fill="#f0b820"/>
<rect x="62" y="56" width="10" height="15" fill="#f0e020"/>
<rect x="118" y="50" width="14" height="21" fill="#e0d820"/>
<ellipse cx="180" cy="53" rx="13" ry="12" fill="#90d040"/>
<ellipse cx="179" cy="52" rx="7" ry="6" fill="#e8c830"/>
<rect x="158" y="46" width="6" height="12" fill="#50b080" opacity=".6"/>
</g>
<rect x="67.9" y="14.7" width="92.4" height="6.2" fill="#4a1030" opacity=".12"/>
<rect x="67.9" y="14.8" width="15.7" height="5.8" fill="#f47080" opacity=".6"/>
<path d="M67.9,14.6 H160.3 M67.9,21.1 H160.3" stroke="#5a2a4a" stroke-width=".45" stroke-dasharray="1.2,.8" fill="none" opacity=".8"/>
<ellipse cx="94.9" cy="17" rx="6.6" ry="7.4" fill="#f07888" opacity=".45"/>
<ellipse cx="94.9" cy="17" rx="6.6" ry="7.4" fill="none" stroke="#7a1a2a" stroke-width=".5"/>
<path d="M67.9,4.8 V30.6 M67.9,14.8 H83.6 M67.9,20.6 H83.6 M160.3,5.6 V30.6 M148.6,14.8 H160.3 M148.6,20.6 H160.3" stroke="#f4f4f8" stroke-width=".6" fill="none"/>
<rect x="5.6" y="0" width="3.3" height="71.2" fill="url(#mcb)"/>
<path d="M5.6,0 V71.2 M8.9,0 V71.2" stroke="#f8f8fa" stroke-width=".45"/>
</g>
</svg>

<div class="t b" style="left:417.9px;top:412px;font-size:4.52px">Anomaly snapshot</div>
<div class="a" style="left:418.6px;top:418.4px;width:193.4px;height:14px;border-radius:3px;background:#f5f7fa;border:0.5px solid #e8ebf0"></div>
<div class="t b" style="left:421.7px;top:423px;font-size:4.47px">Point Overload Faulty (#1)</div>
<div class="t" style="left:584.1px;top:424px;font-size:4.8px;color:#6b7280">score: 0.85</div>

<!-- right card -->
<div class="card" style="left:621.8px;top:249.2px;width:163.6px;height:190px"></div>
<div class="t b" style="left:626.1px;top:255px;font-size:4.98px">Engineer inputs</div>
<div class="t" style="left:626.1px;top:264px;font-size:4.82px;color:#4b5a88">Editable fields are separate from system-generated content. Save to</div>
<div class="t" style="left:626.1px;top:269px;font-size:4.81px;color:#4b5a88">persist, or finalise to lock the timestamp.</div>
<div class="t b" style="left:626.1px;top:276px;font-size:4.47px">Inspector name</div>
<div class="inp" style="left:625.4px;top:282.2px;width:156.4px;height:9.5px"></div>
<div class="t" style="left:629px;top:285px;font-size:4.07px;color:#111">janaka</div>
<div class="t b" style="left:626.1px;top:295px;font-size:4.32px">Status</div>
<div class="inp" style="left:625.4px;top:301.6px;width:156.4px;height:11px"></div>
<div class="t b" style="left:630.3px;top:306px;font-size:4.25px;color:#111">Urgent Attention</div>
<svg class="a" style="left:777.80px;top:306.05px" width="3.8" height="2.5"><path d="M0.5,0.5 L1.90,2.00 L3.30,0.5" stroke="#333" stroke-width="0.6" fill="none"/></svg>
<div class="t" style="left:626.1px;top:317px;font-size:4.71px;color:#1f2937">Voltage</div>
<div class="t" style="left:705.2px;top:317px;font-size:4.98px;color:#1f2937">Current</div>
<div class="inp" style="left:625.4px;top:322.9px;width:77.1px;height:9.5px"></div>
<div class="t b" style="left:629.7px;top:327px;font-size:3.38px;color:#111">12kV</div>
<div class="inp" style="left:705.2px;top:322.9px;width:76.6px;height:9.5px"></div>
<div class="t b" style="left:708.4px;top:327px;font-size:3.85px;color:#111">200A</div>
<div class="t b" style="left:626.1px;top:337px;font-size:4.4px">Recommended action</div>
<div class="inp" style="left:625.4px;top:342.5px;width:156.4px;height:21.7px"></div>
<div class="t" style="left:629px;top:348px;font-size:3.38px;color:#111;font-family:'Liberation Mono'">Urgent maintenance needed</div>
<svg class="a" style="left:778px;top:361px" width="3" height="3"><path d="M0.3,2.7 L2.7,0.3 M1.5,2.7 L2.7,1.5" stroke="#777" stroke-width=".35"/></svg>
<div class="t b" style="left:626.1px;top:368px;font-size:4.41px">Additional remarks</div>
<div class="inp" style="left:625.4px;top:374.4px;width:156.4px;height:20.9px"></div>
<div class="t" style="left:629px;top:379px;font-size:3.34px;color:#7a8090;font-family:'Liberation Mono'">Context, conditions, or notes</div>
<svg class="a" style="left:778px;top:392.2px" width="3" height="3"><path d="M0.3,2.7 L2.7,0.3 M1.5,2.7 L2.7,1.5" stroke="#777" stroke-width=".35"/></svg>
<div class="t b" style="left:626.1px;top:400px;font-size:4.5px">Record date</div>
<div class="inp" style="left:625.4px;top:406px;width:156.4px;height:10.2px"></div>
<div class="t" style="left:629.7px;top:410px;font-size:3.43px;color:#111;font-family:'Liberation Mono'">10/29/2025</div>
<div class="t" style="left:774.2px;top:410px;font-size:3.6px;color:#777">▦</div>
<div class="a" style="left:626.1px;top:420.4px;width:30.8px;height:10px;border-radius:3px;background:#fff;border:0.5px solid #e5e8ee"></div>
<div class="t b" style="left:629.7px;top:424px;font-size:4.1px;color:#111">Save record</div>
<div class="a" style="left:659.9px;top:420.4px;width:23px;height:10px;border-radius:3px;background:#f1f3f7"></div>
<div class="t" style="left:663.7px;top:424px;font-size:4.4px;color:#9aa3b5">Finalize</div>
<div class="a" style="left:686.1px;top:420.4px;width:19.1px;height:10px;border-radius:3px;background:#fff;border:0.5px solid #e5e8ee"></div>
<div class="t b" style="left:689.9px;top:424px;font-size:4.05px;color:#111">Reset</div>
</div>

</body></html>
